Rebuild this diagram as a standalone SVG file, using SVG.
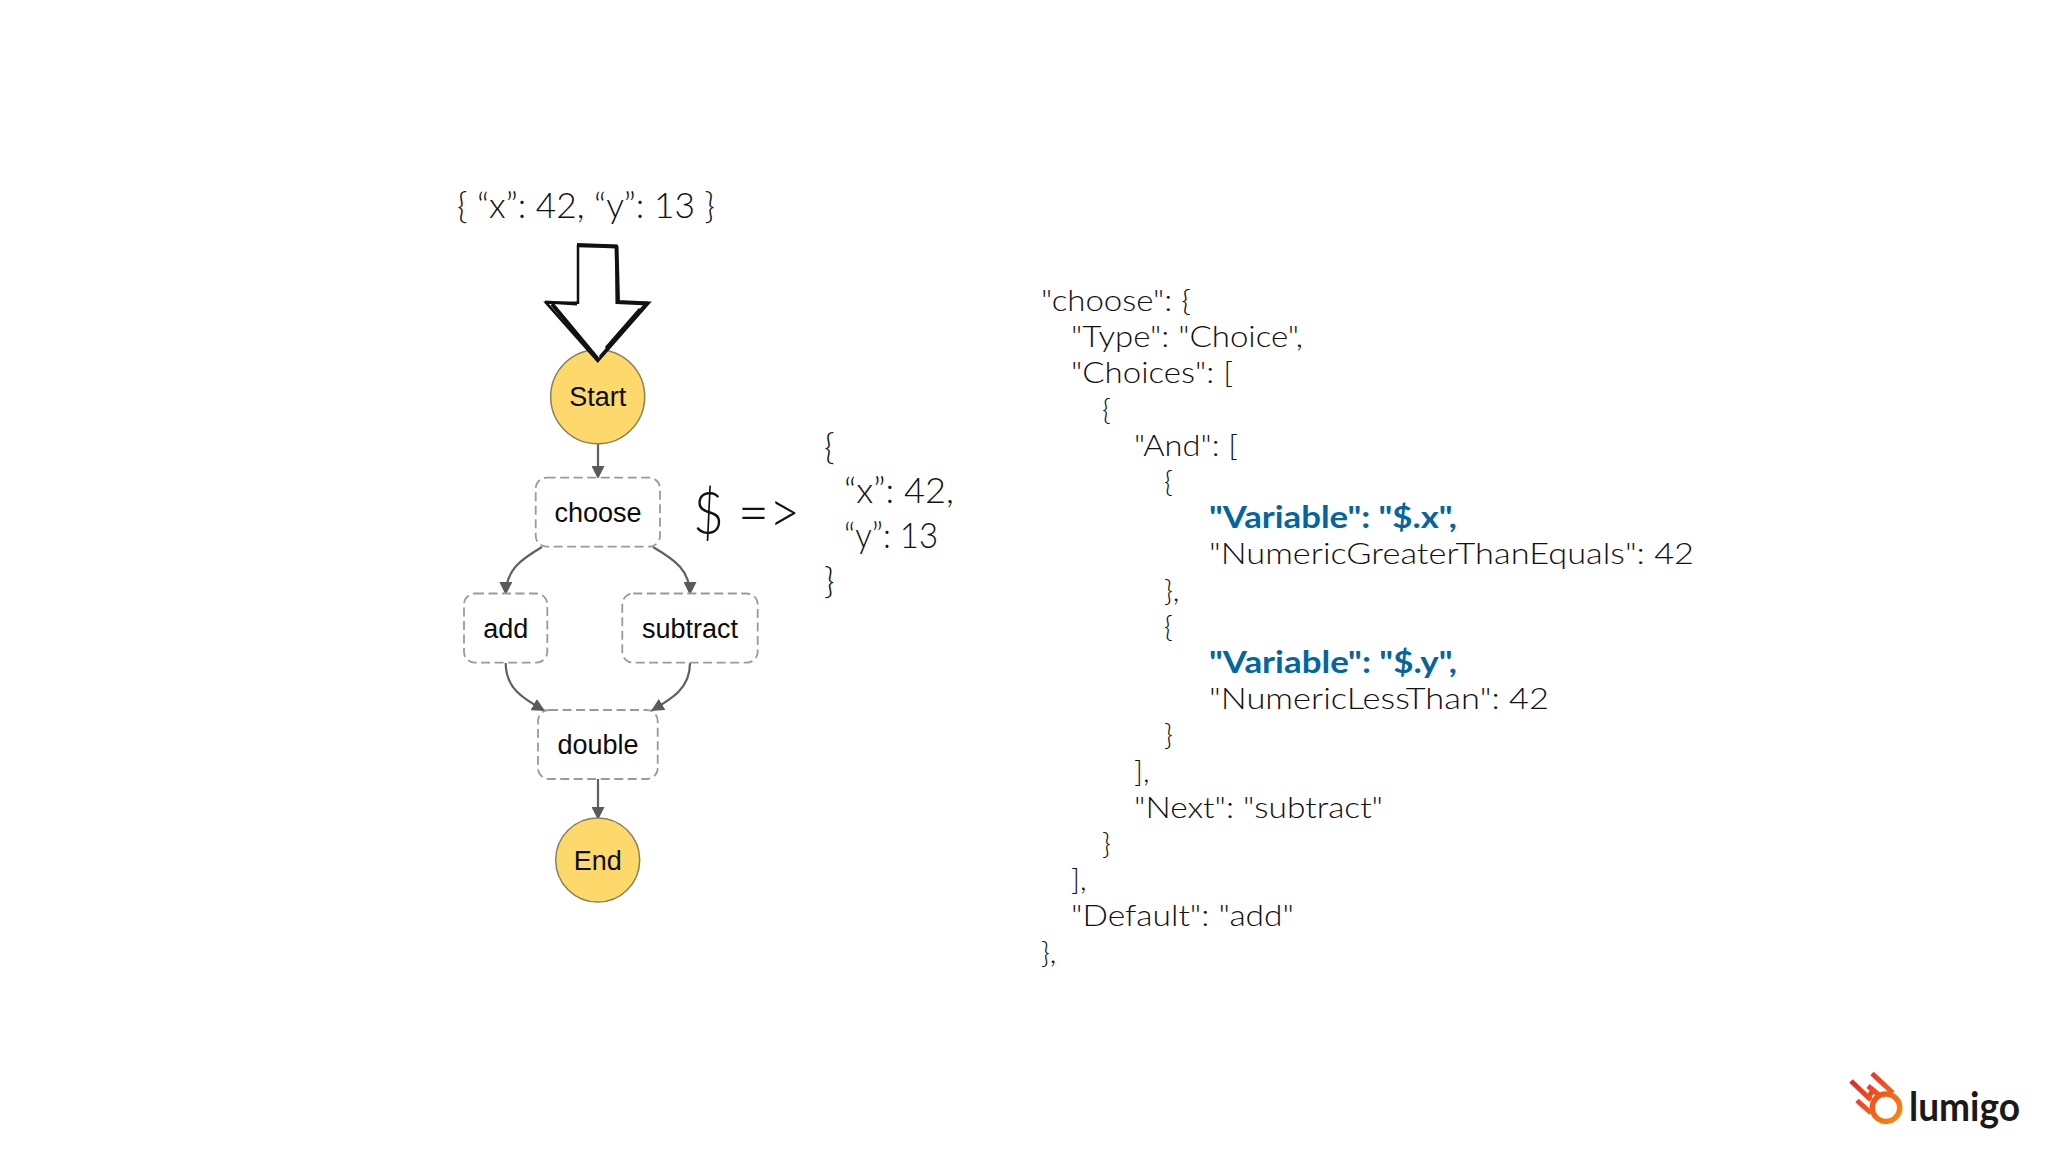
<svg xmlns="http://www.w3.org/2000/svg" width="2048" height="1152" viewBox="0 0 2048 1152">
<style>
.t{font-family:"Lato","Inter","Liberation Sans",sans-serif;font-weight:300;fill:#111;font-variant-ligatures:none}
.c{font-size:30px}
.b{font-weight:700;fill:#04659f}
.big{font-size:36px}
.n{font-family:"Liberation Sans",Arial,sans-serif;font-size:27px;fill:#0c0c0c;text-anchor:middle}
.box{fill:#fff;stroke:#9a9a9a;stroke-width:1.8;stroke-dasharray:9 4.5}
.circ{fill:#fdd96b;stroke:#8c7f5a;stroke-width:1.5}
.e{fill:none;stroke:#606060;stroke-width:2.2;marker-end:url(#a)}
.sk{fill:none;stroke:#111}
</style>
<defs>
<marker id="a" markerUnits="userSpaceOnUse" viewBox="0 0 12 12" refX="12" refY="6" markerWidth="13" markerHeight="13" orient="auto"><path d="M0 0L12 6L0 12z" fill="#5a5a5a"/></marker>
<linearGradient id="g" gradientUnits="userSpaceOnUse" x1="1852" y1="1078" x2="1900" y2="1122"><stop offset="0" stop-color="#e8222a"/><stop offset="1" stop-color="#fb8c0e"/></linearGradient>
</defs>
<rect width="2048" height="1152" fill="#fff"/>
<g id="connectors">
<path class="e" d="M598 443V479"/>
<path class="e" d="M542 547C520 560 506 570 505.7 595"/>
<path class="e" d="M653 547C675 560 690 570 690 595"/>
<path class="e" d="M505.7 663C505.7 688 522 698 545 711"/>
<path class="e" d="M690 663C690 688 673 698 651 711"/>
<path class="e" d="M598 779V820"/>
</g>
<g id="start"><circle class="circ" cx="597.7" cy="396.7" r="47"/><text class="n" x="597.7" y="406" textLength="57" lengthAdjust="spacingAndGlyphs">Start</text></g>
<g id="choose"><rect class="box" x="535.7" y="477.7" width="124.3" height="69" rx="11"/><text class="n" x="598" y="522">choose</text></g>
<g id="add"><rect class="box" x="464" y="593.5" width="83.3" height="69.2" rx="11"/><text class="n" x="505.7" y="638">add</text></g>
<g id="subtract"><rect class="box" x="622.3" y="593.5" width="135.4" height="69.2" rx="11"/><text class="n" x="690" y="638">subtract</text></g>
<g id="double"><rect class="box" x="538" y="710" width="119.7" height="69" rx="11"/><text class="n" x="598" y="754">double</text></g>
<g id="end"><circle class="circ" cx="597.7" cy="860" r="42"/><text class="n" x="597.7" y="869.5">End</text></g>
<g id="input-arrow">
<path d="M578 246H616.7V302.7H649L597.7 361L546 302.7H578Z" fill="#fff" stroke="#111" stroke-width="2.5" stroke-linejoin="miter"/>
<path class="sk" stroke-width="4" d="M577 245L617 246.500M616.500 246L618 302L648 303.500M552 304L597.700 359"/>
<path class="sk" stroke-width="3" d="M645 305L600 357M640 309L606 348M545 302L577 304"/>
</g>
<text class="t big" x="457" y="218" textLength="258" lengthAdjust="spacingAndGlyphs">{ “x”: 42, “y”: 13 }</text>
<text class="t" x="693" y="534" font-size="60" textLength="31" lengthAdjust="spacingAndGlyphs">$</text>
<text class="t" x="738" y="533" font-size="60" textLength="62" lengthAdjust="spacingAndGlyphs">=&gt;</text>
<text class="t big" x="824" y="459" font-size="38">{</text>
<text class="t big" x="844" y="503" textLength="110" lengthAdjust="spacingAndGlyphs">“x”: 42,</text>
<text class="t big" x="844" y="548" textLength="94" lengthAdjust="spacingAndGlyphs">“y”: 13</text>
<text class="t big" x="824" y="593" font-size="38">}</text>
<g id="code">
<text class="t c" x="1041" y="311" textLength="150" lengthAdjust="spacingAndGlyphs">"choose": {</text>
<text class="t c" x="1071" y="347.2" textLength="232" lengthAdjust="spacingAndGlyphs">"Type": "Choice",</text>
<text class="t c" x="1071" y="383.4" textLength="162" lengthAdjust="spacingAndGlyphs">"Choices": [</text>
<text class="t c" x="1102" y="419.6">{</text>
<text class="t c" x="1134" y="455.8" textLength="104" lengthAdjust="spacingAndGlyphs">"And": [</text>
<text class="t c" x="1164" y="492">{</text>
<text class="t c b" x="1209" y="528.2" textLength="248" lengthAdjust="spacingAndGlyphs">"Variable": "$.x",</text>
<text class="t c" x="1209" y="564.4" textLength="485" lengthAdjust="spacingAndGlyphs">"NumericGreaterThanEquals": 42</text>
<text class="t c" x="1164" y="600.6">},</text>
<text class="t c" x="1164" y="636.8">{</text>
<text class="t c b" x="1209" y="673" textLength="248" lengthAdjust="spacingAndGlyphs">"Variable": "$.y",</text>
<text class="t c" x="1209" y="709.2" textLength="340" lengthAdjust="spacingAndGlyphs">"NumericLessThan": 42</text>
<text class="t c" x="1164" y="745.4">}</text>
<text class="t c" x="1134" y="781.6">],</text>
<text class="t c" x="1134" y="817.8" textLength="249" lengthAdjust="spacingAndGlyphs">"Next": "subtract"</text>
<text class="t c" x="1102" y="854">}</text>
<text class="t c" x="1071" y="890.2">],</text>
<text class="t c" x="1071" y="926.4" textLength="223" lengthAdjust="spacingAndGlyphs">"Default": "add"</text>
<text class="t c" x="1041" y="962.6">},</text>
</g>
<g id="logo" fill="none" stroke="url(#g)">
<circle cx="1886" cy="1107.7" r="13.7" stroke-width="5.5"/>
<path stroke-width="5" d="M1851 1081L1871 1100M1872 1073.500L1893 1093M1857 1100.500L1871 1113M1868 1086L1879 1095M1868 1099L1873 1089"/>
<text x="1909" y="1121" font-family="Lato,'Open Sans',sans-serif" font-weight="700" font-size="41" fill="#1a1a1a" stroke="none" textLength="111" lengthAdjust="spacingAndGlyphs">lumigo</text>
</g>
</svg>
